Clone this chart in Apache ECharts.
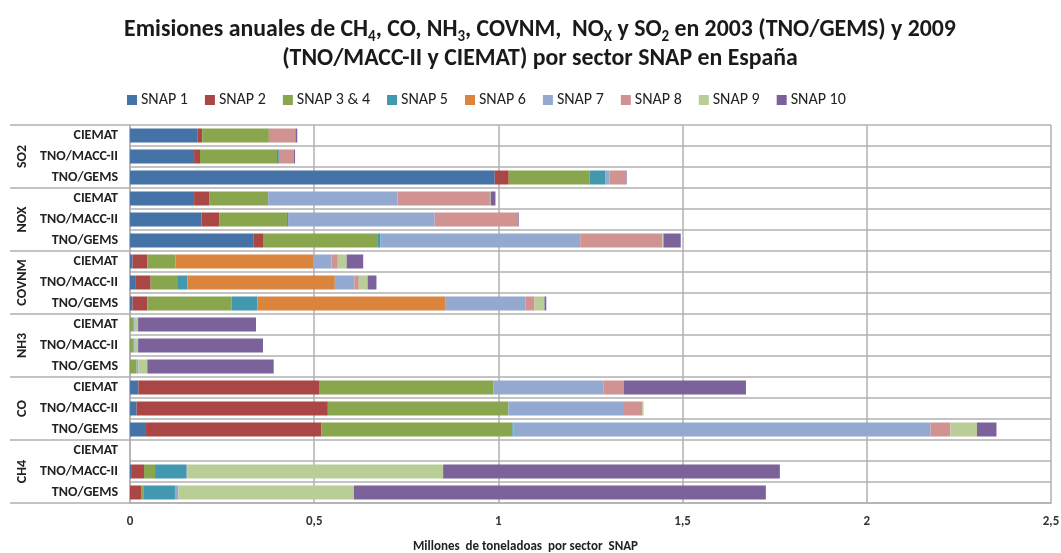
<!DOCTYPE html>
<html><head><meta charset="utf-8">
<script src="https://cdn.jsdelivr.net/npm/echarts@6/dist/echarts.min.js"></script>
<style>html,body{margin:0;padding:0;background:#fff}#c{width:1061px;height:553px}</style>
</head><body><div id="c"></div>
<script>
const groups = ['SO2', 'NOX', 'COVNM', 'NH3', 'CO', 'CH4'];
const sources = ['CIEMAT', 'TNO/MACC-II', 'TNO/GEMS'];
const snapNames = ['SNAP 1', 'SNAP 2', 'SNAP 3 & 4', 'SNAP 5', 'SNAP 6', 'SNAP 7', 'SNAP 8', 'SNAP 9', 'SNAP 10'];
const xTicks = [0, 0.5, 1, 1.5, 2, 2.5];

// rows: SO2(C,M,G), NOX(C,M,G), COVNM(C,M,G), NH3(C,M,G), CO(C,M,G), CH4(C,M,G)
const snap1  = [0.184, 0.174, 0.990, 0.174, 0.194, 0.336, 0.007, 0.014, 0.007, 0, 0, 0, 0.023, 0.018, 0.041, 0, 0.003, 0];
const snap2  = [0.012, 0.016, 0.038, 0.042, 0.048, 0.025, 0.040, 0.042, 0.040, 0, 0, 0, 0.490, 0.519, 0.478, 0, 0.035, 0.030];
const snap34 = [0.181, 0.209, 0.219, 0.159, 0.184, 0.312, 0.076, 0.072, 0.229, 0.008, 0.008, 0.018, 0.473, 0.490, 0.519, 0, 0.030, 0.006];
const snap5  = [0, 0.005, 0.044, 0, 0.003, 0.007, 0, 0.028, 0.070, 0, 0, 0, 0, 0, 0.002, 0, 0.084, 0.086];
const snap6  = [0, 0, 0, 0, 0, 0, 0.375, 0.400, 0.511, 0, 0, 0, 0, 0, 0, 0, 0, 0];
const snap7  = [0, 0, 0.010, 0.351, 0.398, 0.542, 0.049, 0.053, 0.216, 0.005, 0.005, 0.005, 0.300, 0.314, 1.133, 0, 0.003, 0.009];
const snap8  = [0.072, 0.041, 0.045, 0.251, 0.225, 0.223, 0.017, 0.012, 0.025, 0, 0, 0, 0.054, 0.049, 0.054, 0, 0, 0];
const snap9  = [0, 0, 0, 0.002, 0, 0.003, 0.024, 0.024, 0.027, 0.009, 0.009, 0.024, 0, 0.004, 0.072, 0, 0.695, 0.477];
const snap10 = [0.005, 0.003, 0.002, 0.013, 0.003, 0.047, 0.045, 0.024, 0.005, 0.320, 0.339, 0.343, 0.332, 0, 0.053, 0, 0.914, 1.118];

const seriesValues = [snap1, snap2, snap34, snap5, snap6, snap7, snap8, snap9, snap10];
const colors = ['#4572A7', '#AA4643', '#89A54E', '#4198AF', '#DB843D', '#93A9CF', '#D19392', '#B9CD96', '#7C629B'];

const categories = [];
groups.forEach(g => sources.forEach(s => categories.push(g + '|' + s)));

const FONT = 'Carlito, "Liberation Sans Narrow", "Open Sans", sans-serif';
const GRID = '#b0b0b0';

const chart = echarts.init(document.getElementById('c'));
chart.setOption({
  animation: false,
  backgroundColor: '#fff',
  color: colors,
  textStyle: { fontFamily: FONT },
  title: {
    left: 535, top: 11, textAlign: 'center',
    text: '{n|Emisiones anuales de CH}{s|4}{n|, CO, NH}{s|3}{n|, COVNM,  NO}{s|X}{n| y SO}{s|2}{n| en 2003 (TNO/GEMS) y 2009}\n{n|(TNO/MACC-II y CIEMAT) por sector SNAP en España}',
    textStyle: {
      fontFamily: FONT,
      rich: {
        n: { fontSize: 23.8, fontWeight: 'bold', color: '#1a1a1a', lineHeight: 29, fontFamily: FONT, verticalAlign: 'bottom', padding: [0, 0, 3, 0] },
        s: { fontSize: 15, fontWeight: 'bold', color: '#1a1a1a', lineHeight: 29, fontFamily: FONT, verticalAlign: 'bottom' }
      }
    }
  },
  legend: {
    left: 122, top: 87,
    icon: 'rect', itemWidth: 10, itemHeight: 10, itemGap: 17,
    textStyle: { fontSize: 16, color: '#222', fontFamily: FONT, padding: [0, 0, 0, -1] },
    data: snapNames
  },
  grid: { left: 130, right: 10, top: 125, bottom: 50, containLabel: false, outerBoundsMode: 'none' },
  xAxis: {
    type: 'value', min: xTicks[0], max: xTicks[xTicks.length - 1], interval: 0.5,
    axisLine: { show: true, lineStyle: { color: GRID, width: 1.5 } },
    axisTick: { show: false },
    splitLine: { show: true, lineStyle: { color: GRID, width: 1.5 } },
    axisLabel: { margin: 12, fontSize: 13, fontWeight: 'bold', color: '#333', fontFamily: FONT,
      formatter: v => String(v).replace('.', ',') },
    name: 'Millones  de toneladoas  por sector  SNAP',
    nameLocation: 'middle', nameGap: 37,
    nameTextStyle: { fontSize: 13, fontWeight: 'bold', color: '#222', fontFamily: FONT, padding: [0, 130, 0, 0] }
  },
  yAxis: [{
    type: 'category', inverse: true, data: categories,
    axisLine: { show: true, lineStyle: { color: GRID, width: 1.5 } },
    axisTick: { show: false },
    splitLine: { show: true, lineStyle: { color: GRID, width: 1.5 } },
    axisLabel: { margin: 12, fontSize: 14, fontWeight: 'bold', color: '#222', fontFamily: FONT,
      formatter: v => v.split('|')[1] }
  }, {
    type: 'category', inverse: true, data: groups, position: 'left',
    axisLine: { show: false },
    axisTick: { show: true, length: 120, lineStyle: { color: GRID, width: 1.5 } },
    axisLabel: { rotate: 90, margin: 101, fontSize: 14, fontWeight: 'bold', color: '#222', fontFamily: FONT }
  }],
  series: seriesValues.map((vals, i) => ({
    name: snapNames[i], type: 'bar', stack: 'total', barWidth: 14,
    yAxisIndex: 0, data: vals
  }))
});
</script></body></html>
